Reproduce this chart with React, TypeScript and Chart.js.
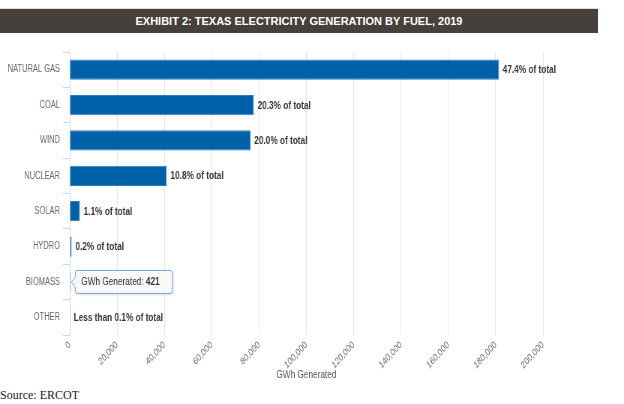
import React, { useEffect, useRef } from "react";
import { Chart, registerables } from "chart.js";

Chart.register(...registerables);

const categories = ["NATURAL GAS", "COAL", "WIND", "NUCLEAR", "SOLAR", "HYDRO", "BIOMASS", "OTHER"];
const gwhGenerated = [181400, 77800, 76400, 41000, 4300, 800, 421, 60];
const shareLabels = [
  "47.4% of total",
  "20.3% of total",
  "20.0% of total",
  "10.8% of total",
  "1.1% of total",
  "0.2% of total",
  "0.1% of total",
  "Less than 0.1% of total",
];
const xTicks = [0, 20000, 40000, 60000, 80000, 100000, 120000, 140000, 160000, 180000, 200000];
const tooltipIndex = 6;
const tooltipLabel = "GWh Generated: ";

const FONT = "'Liberation Sans', Arial, sans-serif";
const SX = 0.75; // horizontal compression of the original rendering
const CW = Math.round(624 / SX);
const CH = 345;

const labelPlugin = {
  id: "shareLabels",
  afterDatasetsDraw(chart: any) {
    const ctx = chart.ctx;
    const meta = chart.getDatasetMeta(0);
    ctx.save();
    ctx.font = `bold 11px ${FONT}`;
    ctx.fillStyle = "#333333";
    ctx.textBaseline = "middle";
    ctx.textAlign = "left";
    meta.data.forEach((bar: any, i: number) => {
      ctx.fillText(shareLabels[i], bar.x + 5, bar.y + 0.5);
    });
    ctx.restore();
  },
};

const tipPlugin = {
  id: "fixedTip",
  afterDraw(chart: any) {
    const ctx = chart.ctx;
    const bar = chart.getDatasetMeta(0).data[tooltipIndex];
    if (!bar) return;
    const tipX = bar.x + 1;
    const cy = bar.y;
    const bx = tipX + 5;
    const h = 23;
    const by = cy - h / 2;
    ctx.save();
    ctx.font = `11px ${FONT}`;
    const w1 = ctx.measureText(tooltipLabel).width;
    ctx.font = `bold 11px ${FONT}`;
    const valStr = String(gwhGenerated[tooltipIndex]);
    const w2 = ctx.measureText(valStr).width;
    const w = w1 + w2 + 25;
    const r = 3;
    const path = () => {
      ctx.beginPath();
      ctx.moveTo(bx + r, by);
      ctx.lineTo(bx + w - r, by);
      ctx.quadraticCurveTo(bx + w, by, bx + w, by + r);
      ctx.lineTo(bx + w, by + h - r);
      ctx.quadraticCurveTo(bx + w, by + h, bx + w - r, by + h);
      ctx.lineTo(bx + r, by + h);
      ctx.quadraticCurveTo(bx, by + h, bx, by + h - r);
      ctx.lineTo(bx, cy + 5);
      ctx.lineTo(tipX, cy);
      ctx.lineTo(bx, cy - 5);
      ctx.lineTo(bx, by + r);
      ctx.quadraticCurveTo(bx, by, bx + r, by);
      ctx.closePath();
    };
    ctx.shadowColor = "rgba(0,0,0,0.18)";
    ctx.shadowBlur = 3;
    ctx.shadowOffsetX = 1;
    ctx.shadowOffsetY = 1;
    path();
    ctx.fillStyle = "rgba(250,250,250,0.97)";
    ctx.fill();
    ctx.shadowColor = "transparent";
    ctx.lineWidth = 1;
    ctx.strokeStyle = "#6fa3d6";
    ctx.stroke();
    ctx.textBaseline = "middle";
    ctx.fillStyle = "#333333";
    ctx.font = `11px ${FONT}`;
    ctx.fillText(tooltipLabel, bx + 8, cy + 0.5);
    ctx.font = `bold 11px ${FONT}`;
    ctx.fillText(valStr, bx + 8 + w1, cy + 0.5);
    ctx.restore();
  },
};

export default function App() {
  const ref = useRef<HTMLCanvasElement>(null);
  useEffect(() => {
    document.body.style.margin = "0";
    if (!ref.current) return;
    const chart = new Chart(ref.current, {
      type: "bar",
      data: {
        labels: categories,
        datasets: [
          {
            label: "GWh Generated",
            data: gwhGenerated,
            backgroundColor: "#0061a8",
            borderColor: "#2b7cc2",
            borderWidth: 1,
            barPercentage: 0.57,
            categoryPercentage: 1,
          },
        ],
      },
      options: {
        indexAxis: "y",
        animation: false,
        responsive: false,
        devicePixelRatio: 1,
        layout: { padding: { top: 12, right: CW - Math.round(543 / SX), left: 0, bottom: 0 } },
        plugins: {
          legend: { display: false },
          tooltip: { enabled: false },
        },
        scales: {
          x: {
            min: 0,
            max: 200000,
            afterBuildTicks(scale: any) {
              scale.ticks = xTicks.map((v) => ({ value: v }));
            },
            afterFit(scale: any) {
              scale.height = 50;
            },
            grid: { color: "#e6e6e6", drawTicks: false, lineWidth: 1 },
            border: { display: false },
            ticks: {
              minRotation: 40,
              maxRotation: 40,
              padding: 4,
              color: "#666666",
              font: { family: FONT, size: 10 },
              callback: (v: any) => Number(v).toLocaleString("en-US"),
            },
            title: {
              display: true,
              text: "GWh Generated",
              color: "#555555",
              font: { family: FONT, size: 11 },
              padding: { top: 3, bottom: 3 },
            },
          },
          y: {
            afterFit(scale: any) {
              scale.width = Math.round(70 / SX);
            },
            grid: {
              offset: true,
              drawOnChartArea: false,
              drawTicks: true,
              tickLength: 9,
              color: "#ccd6eb",
            },
            border: { display: true, color: "#ccd6eb" },
            ticks: {
              padding: 4,
              color: "#666666",
              font: { family: FONT, size: 10 },
            },
          },
        },
      },
      plugins: [labelPlugin, tipPlugin],
    });
    return () => chart.destroy();
  }, []);

  return (
    <div style={{ position: "relative", width: 624, height: 404, background: "#fff", overflow: "hidden" }}>
      <div style={{ position: "absolute", left: 0, top: 8, width: 599, height: 1, background: "#dddddd" }} />
      <div
        style={{
          position: "absolute",
          left: 0,
          top: 9,
          width: 598,
          height: 24,
          background: "#45403c",
          color: "#ffffff",
          fontFamily: FONT,
          fontWeight: "bold",
          fontSize: 11,
          lineHeight: "24px",
          textAlign: "center",
        }}
      >
        EXHIBIT 2: TEXAS ELECTRICITY GENERATION BY FUEL, 2019
      </div>
      <div
        style={{
          position: "absolute",
          left: 0,
          top: 40,
          width: CW,
          height: CH,
          transform: `scaleX(${SX})`,
          transformOrigin: "0 0",
        }}
      >
        <canvas ref={ref} width={CW} height={CH} style={{ width: CW, height: CH }} />
      </div>
      <div
        style={{
          position: "absolute",
          left: 0,
          top: 388,
          fontFamily: "'Liberation Serif', 'Times New Roman', serif",
          fontSize: 12,
          lineHeight: "14px",
          color: "#222222",
        }}
      >
        Source: ERCOT
      </div>
    </div>
  );
}
